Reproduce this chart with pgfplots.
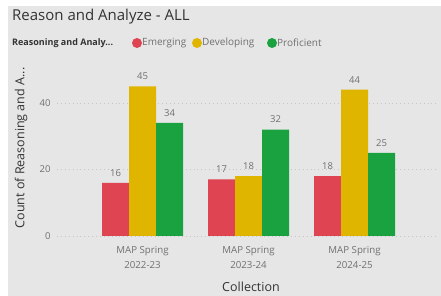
\documentclass[border=0pt]{standalone}
\usepackage{pgfplots}
\pgfplotsset{compat=1.18}
\usepackage{fontspec}
\setmainfont{Open Sans}
\definecolor{bg}{HTML}{E6E6E6}
\definecolor{cred}{HTML}{DF4452}
\definecolor{cyel}{HTML}{E0B500}
\definecolor{cgrn}{HTML}{1BA240}
\definecolor{tgray}{HTML}{707070}
\definecolor{dgray}{HTML}{333333}
\begin{document}
\begin{tikzpicture}
\useasboundingbox (0pt,0pt) rectangle (441pt,296pt);
\fill[white] (0pt,0pt) rectangle (441pt,296pt);
\fill[bg] (8pt,0pt) rectangle (441pt,290pt);
% title
\node[anchor=west, font=\fontsize{15}{17}\selectfont, text=dgray, inner sep=0] at (12pt,279pt) {Reason and Analyze - ALL};
% legend
\node[anchor=west, font=\fontsize{9}{10}\selectfont\bfseries, text=dgray, inner sep=0] at (12pt,253pt) {Reasoning and Analy...};
\fill[cred] (137pt,253pt) circle (5pt);
\node[anchor=west, font=\fontsize{10}{11}\selectfont, text=tgray, inner sep=0] at (142pt,253pt) {Emerging};
\fill[cyel] (197pt,253pt) circle (5pt);
\node[anchor=west, font=\fontsize{10}{11}\selectfont, text=tgray, inner sep=0] at (202pt,253pt) {Developing};
\fill[cgrn] (272pt,253pt) circle (5pt);
\node[anchor=west, font=\fontsize{10}{11}\selectfont, text=tgray, inner sep=0] at (277pt,253pt) {Proficient};
\begin{axis}[
  at={(57pt,60pt)}, anchor=south west,
  scale only axis, width=380pt, height=166.25pt,
  xmin=-0.8066, xmax=2.778, ymin=0, ymax=50,
  ybar=0pt, bar width=27pt,
  axis line style={draw=none},
  major tick length=0pt,
  ytick={0,20,40},
  ymajorgrids,
  grid style={dash pattern=on 0.9pt off 3pt, draw=black!22, line width=0.9pt},
  xtick={0,1,2},
  xticklabels={{MAP Spring\\2022-23},{MAP Spring\\2023-24},{MAP Spring\\2024-25}},
  xticklabel style={align=center, text=tgray, font=\fontsize{9.7}{15}\selectfont, yshift=-7pt},
  yticklabel style={text=tgray, font=\fontsize{9.5}{11}\selectfont, xshift=-3pt},
  /pgf/number format/assume math mode=true,
  nodes near coords,
  every node near coord/.append style={text=tgray, font=\fontsize{9.5}{11}\selectfont, yshift=3pt},
  clip=false,
]
\addplot[fill=cred, draw=none] coordinates {(0,16) (1,17) (2,18)};
\addplot[fill=cyel, draw=none] coordinates {(0,45) (1,18) (2,44)};
\addplot[fill=cgrn, draw=none] coordinates {(0,34) (1,32) (2,25)};
\end{axis}
\node[font=\fontsize{12.5}{14}\selectfont, text=dgray] at (251pt,9pt) {Collection};
\node[rotate=90, font=\fontsize{12.5}{14}\selectfont, text=dgray] at (21pt,148pt) {Count of Reasoning and A...};
\end{tikzpicture}
\end{document}
